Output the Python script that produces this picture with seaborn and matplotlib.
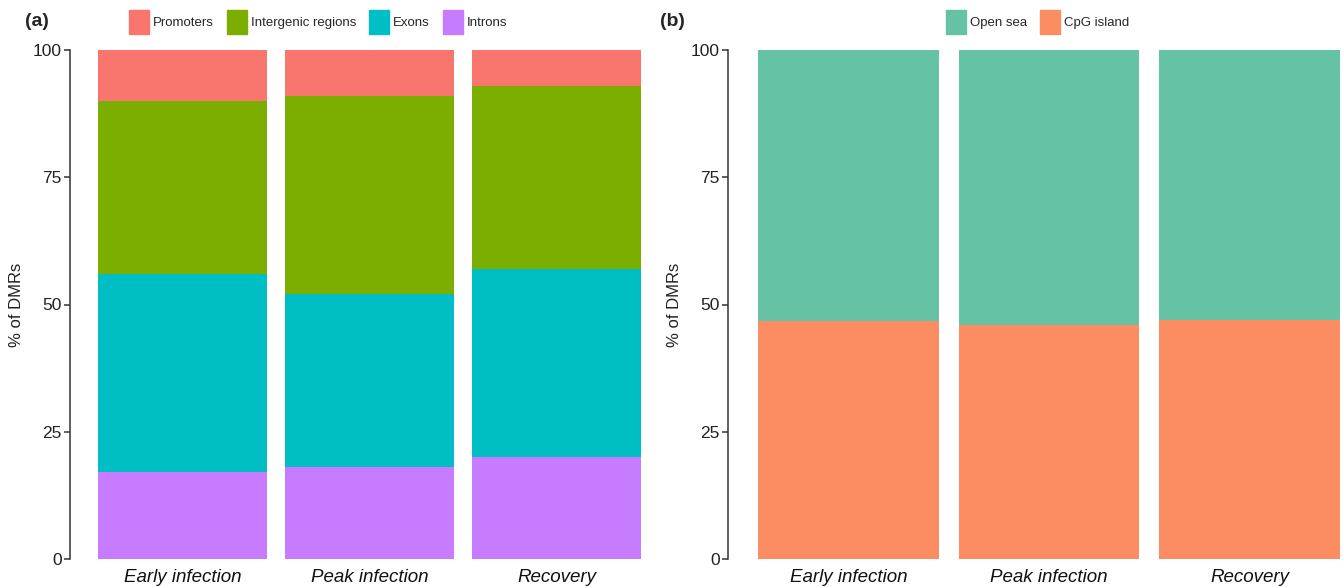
import numpy as np
import pandas as pd
import matplotlib
matplotlib.use('Agg')
import matplotlib.pyplot as plt
from matplotlib.patches import Patch
import seaborn as sns

# values (% of DMRs)
stages = ['Early infection', 'Peak infection', 'Recovery']

regions = ['Promoters', 'Intergenic regions', 'Exons', 'Introns']
promoters = [10, 9, 7]
intergenic = [34, 39, 36]
exons = [39, 34, 37]
introns = [17, 18, 20]
region_colors = ['#F8766D', '#7CAE00', '#00BFC4', '#C77CFF']

cpg_classes = ['Open sea', 'CpG island']
open_sea = [53.3, 54.0, 53.0]
cpg_island = [46.7, 46.0, 47.0]
cpg_colors = ['#66C2A5', '#FC8D62']

sns.set_theme(style='white')
plt.rcParams['font.family'] = ['Liberation Sans', 'DejaVu Sans']

fig = plt.figure(figsize=(13.43, 5.87), dpi=100)
W, H = 1343, 587
ax_a = fig.add_axes([70 / W, 28 / H, (669 - 70) / W, 509 / H])
ax_b = fig.add_axes([728 / W, 28 / H, (1343 - 728) / W, 509 / H])


def stacked(ax, layers, colors):
    # draw from the top of the stack down so each layer covers the one above
    cum = np.cumsum(np.array(layers[::-1]), axis=0)[::-1]
    for vals, col in zip(cum, colors):
        df = pd.DataFrame({'stage': stages, 'value': vals})
        sns.barplot(data=df, x='stage', y='value', color=col, width=0.9,
                    saturation=1, linewidth=0, errorbar=None, ax=ax)


stacked(ax_a, [promoters, intergenic, exons, introns], region_colors)
stacked(ax_b, [open_sea, cpg_island], cpg_colors)

for ax, xr in [(ax_a, 2.6), (ax_b, 2.466)]:
    ax.set_xlim(-0.6, xr)
    ax.set_ylim(0, 100)
    ax.set_yticks([0, 25, 50, 75, 100])
    ax.set_xlabel('')
    ax.set_ylabel('% of DMRs', fontsize=12, color='#222222', labelpad=6)
    sns.despine(ax=ax, bottom=True)
    ax.spines['left'].set_color('#333333')
    ax.spines['left'].set_linewidth(1.1)
    ax.tick_params(axis='y', left=True, length=4, width=1.1, color='#333333',
                   labelsize=12.5, labelcolor='#222222', pad=2)
    ax.tick_params(axis='x', bottom=False, labelsize=13.5, labelcolor='#111111', pad=1)
    for lab in ax.get_xticklabels():
        lab.set_fontstyle('italic')

fig.text(25 / W, 1 - 22 / H, '(a)', fontsize=14, fontweight='bold', va='center')
fig.text(660 / W, 1 - 22 / H, '(b)', fontsize=14, fontweight='bold', va='center')

leg_kw = dict(frameon=False, fontsize=9.5,
              handlelength=1.5, handleheight=2.45, handletextpad=0.3,
              columnspacing=1.0, borderpad=0, borderaxespad=0, loc='center left')
fig.legend(handles=[Patch(color=c, label=l) for c, l in zip(region_colors, regions)],
           ncol=4, bbox_to_anchor=(129 / W, 1 - 22 / H), **leg_kw)
fig.legend(handles=[Patch(color=c, label=l) for c, l in zip(cpg_colors, cpg_classes)],
           ncol=2, bbox_to_anchor=(946 / W, 1 - 22 / H), **leg_kw)

fig.savefig('out.png', dpi=100)
